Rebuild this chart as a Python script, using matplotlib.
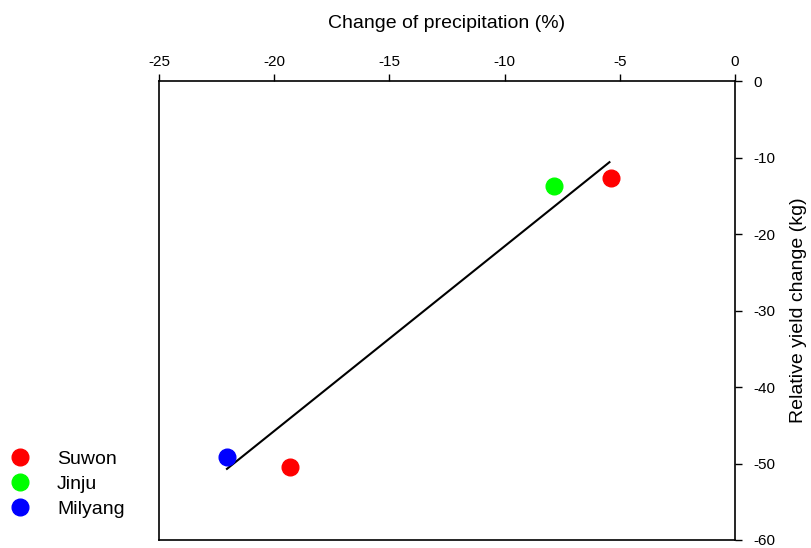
import numpy as np
import matplotlib.pyplot as plt
from matplotlib.lines import Line2D

plt.rcParams['font.family'] = ['Liberation Sans', 'DejaVu Sans']
plt.rcParams['axes.unicode_minus'] = False

# Data
sites = ["Suwon", "Jinju", "Milyang"]
colors = ["#ff0000", "#00ff00", "#0000ff"]
suwon_x = [-5.4, -19.3]
suwon_y = [-12.7, -50.4]
jinju_x = [-7.85]
jinju_y = [-13.7]
milyang_x = [-22.05]
milyang_y = [-49.2]
fit_x = [-22.05, -5.45]
fit_y = [-50.7, -10.6]

fig = plt.figure(figsize=(8.12, 5.48), dpi=100)
ax = fig.add_axes([0.1958, 0.0146, 0.7094, 0.8374])

ax.plot(fit_x, fit_y, color="black", lw=1.5, zorder=2)
ax.plot(suwon_x, suwon_y, "o", color=colors[0], ms=12, zorder=3)
ax.plot(jinju_x, jinju_y, "o", color=colors[1], ms=12, zorder=3)
ax.plot(milyang_x, milyang_y, "o", color=colors[2], ms=12, zorder=3)

ax.set_xlim(-25, 0)
ax.set_ylim(-60, 0)
ax.set_xticks(np.arange(-25, 1, 5))
ax.set_yticks(np.arange(-60, 1, 10))

ax.xaxis.tick_top()
ax.xaxis.set_label_position("top")
ax.yaxis.tick_right()
ax.yaxis.set_label_position("right")
ax.tick_params(direction="out", length=5, width=1, labelsize=11, color="black")
ax.tick_params(axis="y", pad=8)
ax.set_xlabel("Change of precipitation (%)", fontsize=14, labelpad=20)
ax.set_ylabel("Relative yield change (kg)", fontsize=14, labelpad=11)
for s in ax.spines.values():
    s.set_linewidth(1.2)

handles = [Line2D([], [], ls="none", marker="o", ms=12, color=c) for c in colors]
fig.legend(handles, sites, loc="upper left", bbox_to_anchor=(0.003, 0.192),
           frameon=False, fontsize=14, handletextpad=1.4, labelspacing=0.38,
           handlelength=1.0, borderaxespad=0.0)

plt.savefig("out.png", dpi=100)
